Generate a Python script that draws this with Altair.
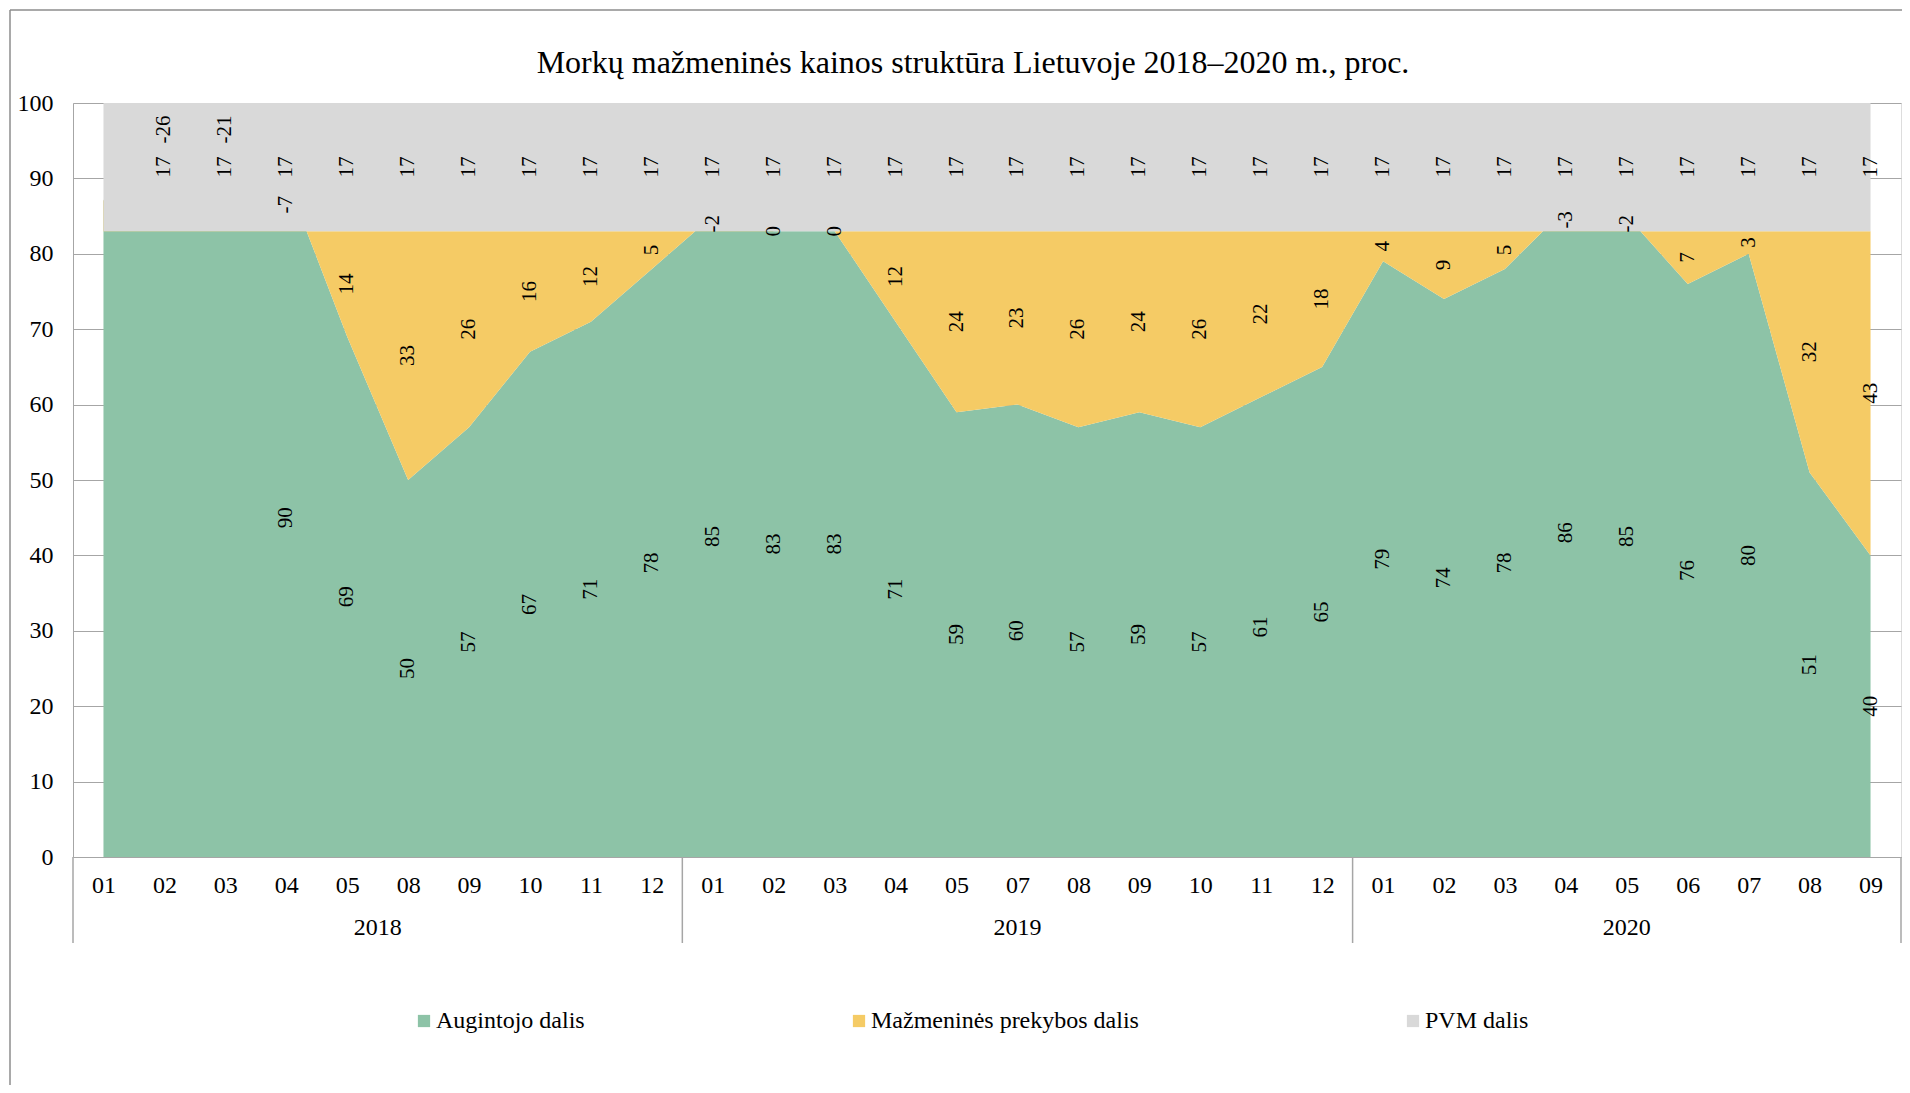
import altair as alt
import pandas as pd

TITLE = "Morkų mažmeninės kainos struktūra Lietuvoje 2018–2020 m., proc."

# --- data -------------------------------------------------------------
months = ["01", "02", "03", "04", "05", "08", "09", "10", "11", "12",
          "01", "02", "03", "04", "05", "07", "08", "09", "10", "11", "12",
          "01", "02", "03", "04", "05", "06", "07", "08", "09"]
year_names = ["2018", "2019", "2020"]
year_counts = [10, 11, 9]

series_names = ["Augintojo dalis", "Mažmeninės prekybos dalis", "PVM dalis"]
grower = [87, 109, 104, 90, 69, 50, 57, 67, 71, 78,
          85, 83, 83, 71, 59, 60, 57, 59, 57, 61, 65,
          79, 74, 78, 86, 85, 76, 80, 51, 40]
retail = [-4, -26, -21, -7, 14, 33, 26, 16, 12, 5,
          -2, 0, 0, 12, 24, 23, 26, 24, 26, 22, 18,
          4, 9, 5, -3, -2, 7, 3, 32, 43]
vat = [17, 17, 17, 17, 17, 17, 17, 17, 17, 17,
       17, 17, 17, 17, 17, 17, 17, 17, 17, 17, 17,
       17, 17, 17, 17, 17, 17, 17, 17, 17]
colors = ["#8DC3A7", "#F5CB65", "#D9D9D9"]

# --- derived tables ----------------------------------------------------
area_rows = []
label_rows = []
for i in range(len(months)):
    g, r, v = grower[i], retail[i], vat[i]
    segs = [(series_names[0], 0, g, g),
            (series_names[1], g, g + r, r),
            (series_names[2], g + r, g + r + v, v)]
    vat_mid = (2 * (g + r) + v) / 2
    for name, lo, hi, val in segs:
        area_rows.append({"i": i, "series": name, "lo": lo, "hi": hi})
        # the source shows no labels for the first month, nor for off-scale points
        if i == 0 or (hi > 100 and name == series_names[0]):
            continue
        ly = (lo + hi) / 2
        # a retail label that would sit on the VAT label is lifted above it
        if name == series_names[1] and abs(ly - vat_mid) < 5:
            ly = vat_mid + 5
        label_rows.append({"i": i, "series": name, "ly": ly, "txt": str(val)})
area_df = pd.DataFrame(area_rows)
label_df = pd.DataFrame(label_rows)

bounds = [-0.5]
mids = []
start = 0
for c in year_counts:
    mids.append(start + (c - 1) / 2)
    start += c
    bounds.append(start - 0.5)
year_df = pd.DataFrame({"year": year_names, "mid": mids})
sep_df = pd.DataFrame({"b": bounds})

W, H = 1828, 754
FONT = "Liberation Serif"
GRID = "#a6a6a6"

xscale = alt.Scale(domain=[-0.5, len(months) - 0.5], nice=False, zero=False)
yscale = alt.Scale(domain=[0, 100], nice=False)
cscale = alt.Scale(domain=series_names, range=colors)

label_expr = "[" + ",".join("'" + m + "'" for m in months) + "][datum.value]"

x_axis = alt.Axis(values=list(range(len(months))), labelExpr=label_expr, title=None,
                  grid=False, ticks=False, domain=True, domainColor=GRID,
                  labelFont=FONT, labelFontSize=24, labelColor="black",
                  labelBaseline="middle", labelPadding=28, labelAngle=0, zindex=1)
y_axis = alt.Axis(values=list(range(0, 101, 10)), title=None, grid=True, gridColor=GRID,
                  ticks=False, domain=True, domainColor=GRID,
                  labelFont=FONT, labelFontSize=24, labelColor="black", labelPadding=20)

legend = alt.Legend(orient="none", legendX=339, legendY=906, direction="horizontal",
                    title=None, symbolType="square", symbolSize=150, symbolStrokeWidth=0,
                    labelFont=FONT, labelFontSize=24, labelColor="black", labelLimit=0,
                    columnPadding=262, labelOffset=0)


def X(field):
    return alt.X(field, scale=xscale, axis=x_axis)


def Y(field, **kw):
    return alt.Y(field, scale=yscale, axis=y_axis, **kw)


layers = []
for name in series_names:
    layers.append(
        alt.Chart(area_df).transform_filter(alt.datum.series == name)
        .mark_area(clip=True, opacity=1)
        .encode(
            x=X("i:Q"),
            y=Y("hi:Q", stack=None),
            y2="lo:Q",
            color=alt.Color("series:N", scale=cscale, legend=legend),
        )
    )

labels = alt.Chart(label_df).mark_text(angle=270, font=FONT, fontSize=21, color="black",
                                        align="center", baseline="middle").encode(
    x=X("i:Q"),
    y=Y("ly:Q"),
    text="txt:N",
)

year_text = alt.Chart(year_df).mark_text(font=FONT, fontSize=24, color="black",
                                          align="center", baseline="middle").encode(
    x=X("mid:Q"),
    y=alt.value(H + 71),
    text="year:N",
)

seps = alt.Chart(sep_df).mark_rule(color=GRID, strokeWidth=1.5).encode(
    x=X("b:Q"),
    y=alt.value(H),
    y2=alt.value(H + 86),
)

one = pd.DataFrame({"t": [TITLE]})
title_text = alt.Chart(one).mark_text(font=FONT, fontSize=32, color="black",
                                      align="center", baseline="alphabetic").encode(
    x=alt.value(W / 2 - 14), y=alt.value(-30), text="t:N")
frame_left = alt.Chart(one).mark_rule(color="#8c8c8c", strokeWidth=1.5).encode(
    x=alt.value(-63), y=alt.value(-93), y2=alt.value(H + 240))
frame_top = alt.Chart(one).mark_rule(color="#8c8c8c", strokeWidth=1.5).encode(
    x=alt.value(-63), x2=alt.value(W + 20), y=alt.value(-93))

chart = alt.layer(*layers, labels, year_text, seps, title_text, frame_left, frame_top).properties(
    width=W, height=H,
    autosize="none",
    padding={"left": 65, "top": 95, "right": 1, "bottom": 228},
).configure_view(stroke=None).configure(background="white")

chart.save("out.html", embed_options={"renderer": "svg", "actions": False})
